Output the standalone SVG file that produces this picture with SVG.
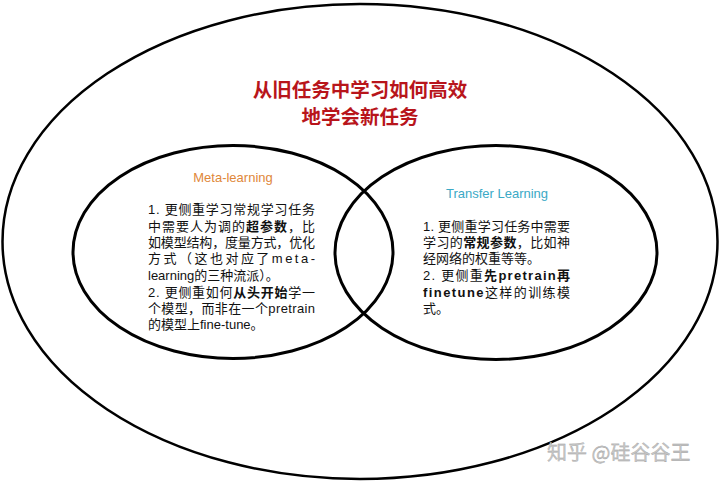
<svg xmlns="http://www.w3.org/2000/svg" width="720" height="482" viewBox="0 0 720 482">
<style>
.ring{fill:none;stroke:#000;}
.title{font-family:"Noto Sans CJK SC","Liberation Serif",serif;font-size:19.5px;font-weight:bold;fill:#b8151b;text-anchor:middle;}
.head{font-family:"Liberation Sans","Noto Sans CJK SC",sans-serif;font-size:13px;text-anchor:middle;}
.body{font-family:"Liberation Sans","Noto Sans CJK SC",sans-serif;font-size:13px;fill:#111;}
.b{font-weight:bold;}
.wm{font-family:"Noto Sans CJK SC","Liberation Sans",sans-serif;font-size:20px;fill:#c8c8c8;stroke:#999;stroke-width:0.3;}
</style>
<rect width="720" height="482" fill="#fff"/>
<g id="outer">
<ellipse class="ring" cx="360" cy="241.5" rx="357.5" ry="237.5" stroke-width="2.5"/>
<text class="title" x="360" y="97">从旧任务中学习如何高效</text>
<text class="title" x="360" y="124">地学会新任务</text>
</g>
<g id="meta">
<ellipse class="ring" cx="233" cy="252" rx="160" ry="106.5" stroke-width="3"/>
<text class="head" x="233" y="182" fill="#e0873a">Meta-learning</text>
<text class="body" x="148" y="214" textLength="167" lengthAdjust="spacing">1. 更侧重学习常规学习任务</text>
<text class="body" x="148" y="231" textLength="167" lengthAdjust="spacing">中需要人为调的<tspan class="b">超参数</tspan>，比</text>
<text class="body" x="148" y="247" textLength="167" lengthAdjust="spacing">如模型结构，度量方式，优化</text>
<text class="body" x="148" y="263" textLength="167" lengthAdjust="spacing">方式（这也对应了meta-</text>
<text class="body" x="148" y="280">learning的三种流派）。</text>
<text class="body" x="148" y="297" textLength="167" lengthAdjust="spacing">2. 更侧重如何<tspan class="b">从头开始</tspan>学一</text>
<text class="body" x="148" y="313" textLength="167" lengthAdjust="spacing">个模型，而非在一个pretrain</text>
<text class="body" x="148" y="329">的模型上fine-tune。</text>
</g>
<g id="transfer">
<ellipse class="ring" cx="496" cy="252.5" rx="161" ry="107" stroke-width="3"/>
<text class="head" x="497" y="198" fill="#3ba9c6">Transfer Learning</text>
<text class="body" x="423" y="231" textLength="147" lengthAdjust="spacing">1. 更侧重学习任务中需要</text>
<text class="body" x="423" y="247" textLength="147" lengthAdjust="spacing">学习的<tspan class="b">常规参数</tspan>，比如神</text>
<text class="body" x="423" y="263">经网络的权重等等。</text>
<text class="body" x="423" y="280" textLength="147" lengthAdjust="spacing">2. 更侧重<tspan class="b">先pretrain再</tspan></text>
<text class="body" x="423" y="297" textLength="147" lengthAdjust="spacing"><tspan class="b">finetune</tspan>这样的训练模</text>
<text class="body" x="423" y="313">式。</text>
</g>
<g id="connectors"></g>
<text class="wm" x="547" y="460">知乎 @硅谷谷王</text>
</svg>
